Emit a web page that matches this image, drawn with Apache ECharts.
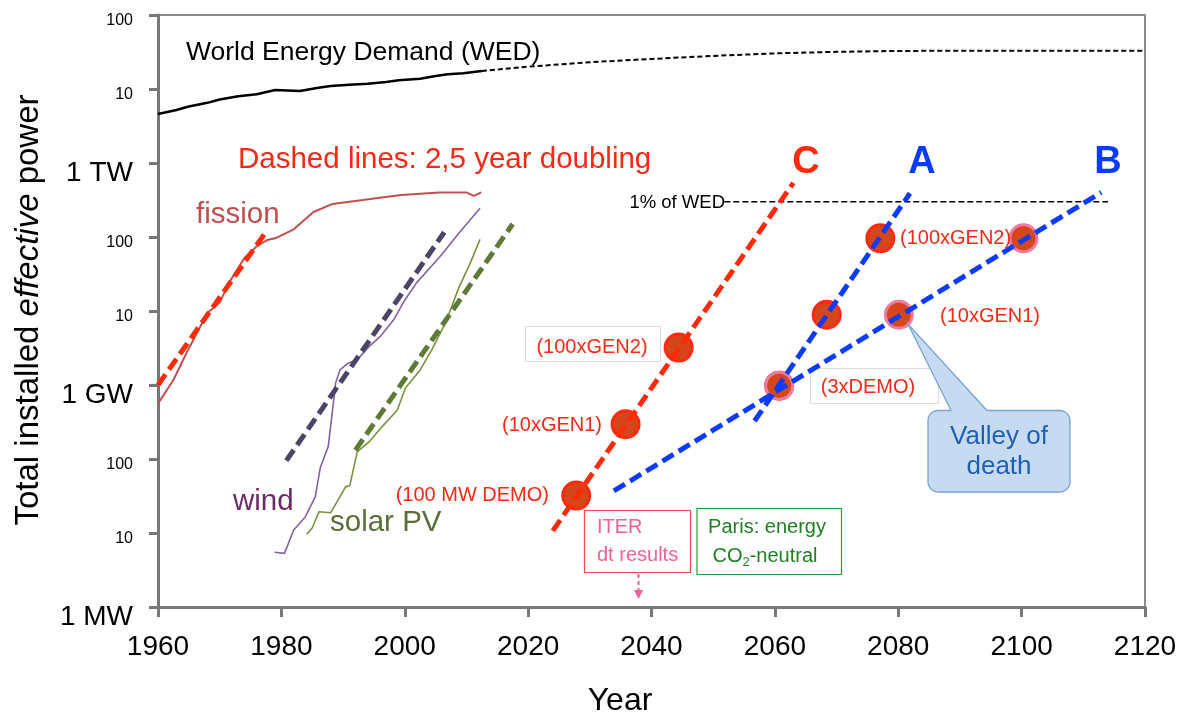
<!DOCTYPE html>
<html><head><meta charset="utf-8">
<script src="https://cdn.jsdelivr.net/npm/echarts@6/dist/echarts.min.js"></script>
<style>html,body{margin:0;padding:0;background:#fff}#c{width:1184px;height:718px}</style>
</head><body><div id="c"></div>
<script>
// ---------- DATA (power in MW unless noted) ----------
const xTicks = [1960, 1980, 2000, 2020, 2040, 2060, 2080, 2100, 2120];
const yTickLabels = ['1 MW', '10', '100', '1 GW', '10', '100', '1 TW', '10', '100'];

// World energy demand, TW
const wedYears = [1960, 1963, 1965, 1968, 1970, 1973, 1976, 1979, 1983, 1986, 1988, 1991, 1994, 1997, 1999, 2002.5, 2005, 2007, 2009.5, 2012.5];
const wedTW    = [4.6, 5.2, 5.8, 6.5, 7.2, 8.0, 8.5, 9.7, 9.4, 10.4, 11.0, 11.4, 11.8, 12.4, 13.1, 13.8, 15.0, 15.8, 16.3, 17.5];
const wedProjYears = [2012.5, 2020, 2030, 2040, 2050, 2060, 2070, 2080, 2100, 2120];
const wedProjTW    = [17.5, 20, 23, 25.5, 28, 30.3, 31.8, 32.7, 33, 33];

const fissionYears = [1960, 1962.5, 1964.7, 1966, 1968, 1970, 1971.5, 1974, 1976, 1977.7, 1979, 1982, 1985.2, 1988.3, 1993.2, 1999.4, 2005.6, 2010, 2011.2, 2012.4];
const fissionMW    = [560, 1170, 2800, 4500, 9400, 13000, 24000, 52000, 75000, 91000, 96000, 127000, 218000, 280000, 316000, 370000, 400000, 400000, 360000, 400000];

const windYears = [1978.9, 1980.5, 1982, 1983.9, 1985.5, 1986.3, 1987.6, 1988.3, 1988.8, 1989.5, 1990.7, 1992.3, 1994.2, 1996, 1998.2, 2000, 2001.9, 2005.7, 2008.8, 2012.2];
const windMW    = [5.5, 5.3, 11, 16.6, 31, 76, 148, 460, 1070, 1600, 1950, 2200, 3300, 4500, 7600, 14000, 24000, 54000, 113000, 245000];

const solarYears = [1984.1, 1985, 1986.1, 1988, 1989.2, 1990.4, 1991.1, 1992.3, 1994.2, 1996.3, 1998.8, 2000.1, 2002.5, 2004.4, 2006.6, 2008.8, 2010.6, 2012.2];
const solarMW    = [9.6, 11.7, 19.4, 18.8, 28, 42, 44, 125, 170, 272, 460, 910, 1600, 3000, 6900, 21000, 44000, 93000];

// 2.5-year doubling lines: [year, MW] end points
const fissionFit = [[1960, 1000], [1977.5, 117000]];
const windFit    = [[1980.8, 95], [2006.4, 116000]];
const solarFit   = [[1992, 132], [2017.5, 150000]];
const scenarioC  = [[2024, 10.7], [2063, 540000]];
const scenarioA  = [[2056.7, 326], [2081.9, 390000]];
const scenarioB  = [[2033.9, 37], [2112.9, 400000]];
const onePctWED  = [[2051.8, 300000], [2114, 300000]];

const cDotYears = [2027.8, 2035.8, 2044.4];
const cDotMW    = [32, 295, 3200];
const aDotYears = [2060.7, 2068.4, 2077.1];
const aDotMW    = [980, 8900, 96000];
const bDotYears = [2060.7, 2080.1, 2100.3];
const bDotMW    = [980, 8900, 96000];

// ---------- CHART ----------
const FONT = '"Liberation Sans", Arial, Helvetica, sans-serif';
const zip = (xs, ys, k) => xs.map((x, i) => [x, ys[i] * (k || 1)]);
const RED = '#ff2a0a', BLUE = '#0b3bff', LBL = '#f52a14';

function line(data, color, width, dash, z) {
  return { type: 'line', data, showSymbol: false, silent: true, z: z || 3,
    lineStyle: { color, width, type: dash || 'solid', cap: 'butt' }, animation: false };
}
function dots(xs, ys, border, z) {
  return { type: 'scatter', data: zip(xs, ys), symbolSize: 27, z: z || 2, silent: true,
    itemStyle: { color: '#d5461b', borderColor: border, borderWidth: 3, opacity: 1 }, animation: false };
}
function txt(x, y, text, size, fill, align, extra) {
  return Object.assign({ type: 'text', x, y, z: 10, style: Object.assign({ text, font: size + 'px ' + FONT, fill, align: align || 'left', verticalAlign: 'middle' }, (extra && extra.style) || {}) }, extra && extra.el || {});
}
// callout outline: rounded box with a pointer from its top edge
function calloutPoints(x0, y0, x1, y1, r, p1, apex, p2) {
  const pts = [];
  const arc = (cx, cy, a0, a1) => { for (let k = 0; k <= 6; k++) { const a = a0 + (a1 - a0) * k / 6; pts.push([cx + r * Math.cos(a), cy + r * Math.sin(a)]); } };
  arc(x0 + r, y0 + r, Math.PI, 1.5 * Math.PI);
  pts.push([p1, y0], apex, [p2, y0]);
  arc(x1 - r, y0 + r, 1.5 * Math.PI, 2 * Math.PI);
  arc(x1 - r, y1 - r, 0, 0.5 * Math.PI);
  arc(x0 + r, y1 - r, 0.5 * Math.PI, Math.PI);
  return pts;
}

const chart = echarts.init(document.getElementById('c'), null, { renderer: 'canvas' });
const graphic = [
  { type: 'text', x: 29, y: 310, rotation: Math.PI / 2, z: 10, style: { text: 'Total installed {i|effective} power', font: '33px ' + FONT, fill: '#000', align: 'center', verticalAlign: 'middle',
      rich: { i: { fontStyle: 'italic', fontSize: 33, fontFamily: FONT, fill: '#000' } } } },
  txt(620, 701, 'Year', 32, '#000', 'center'),
  txt(186, 53, 'World Energy Demand (WED)', 26.5, '#000'),
  txt(238, 160, 'Dashed lines: 2,5 year doubling', 29.5, LBL),
  txt(196, 215, 'fission', 29.5, '#c0504d'),
  txt(233, 502, 'wind', 29.5, '#6e2a68'),
  txt(330, 523, 'solar PV', 29.5, '#5b6e3a'),
  txt(806, 163, 'C', 38, RED, 'center', { style: { font: 'bold 38px ' + FONT } }),
  txt(922, 163, 'A', 38, BLUE, 'center', { style: { font: 'bold 38px ' + FONT } }),
  txt(1108, 163, 'B', 38, BLUE, 'center', { style: { font: 'bold 38px ' + FONT } }),
  txt(725, 203, '1% of WED', 18.5, '#000', 'right'),
  // dot labels
  txt(549, 495, '(100 MW DEMO)', 20, LBL, 'right'),
  txt(602, 425, '(10xGEN1)', 20, LBL, 'right'),
  { type: 'rect', z: 1, shape: { x: 525.5, y: 326.5, width: 135, height: 35 }, style: { fill: '#fff', stroke: '#dcdcdc', lineWidth: 1 } },
  txt(592, 347, '(100xGEN2)', 20, LBL, 'center'),
  { type: 'rect', z: 1, shape: { x: 810.5, y: 368.5, width: 128, height: 35 }, style: { fill: '#fff', stroke: '#dcdcdc', lineWidth: 1 } },
  txt(868, 387, '(3xDEMO)', 20, LBL, 'center'),
  txt(900, 238, '(100xGEN2)', 20, LBL, 'left'),
  txt(940, 316, '(10xGEN1)', 20, LBL, 'left'),
  // ITER box
  { type: 'rect', z: 6, shape: { x: 584.5, y: 510.5, width: 106, height: 62 }, style: { fill: '#fff', stroke: '#f04a4a', lineWidth: 1.2 } },
  txt(597, 527, 'ITER', 20, '#f2609a'),
  txt(597, 555, 'dt results', 20, '#f2609a'),
  { type: 'line', z: 6, shape: { x1: 638.5, y1: 574, x2: 638.5, y2: 591 }, style: { stroke: '#f2609a', lineWidth: 2, lineDash: [4, 3] } },
  { type: 'polygon', z: 6, shape: { points: [[634, 590], [643, 590], [638.5, 599]] }, style: { fill: '#f2609a' } },
  // Paris box
  { type: 'rect', z: 6, shape: { x: 697, y: 508.5, width: 144.5, height: 66 }, style: { fill: '#fff', stroke: '#2f9a35', lineWidth: 1.2 } },
  txt(767, 527, 'Paris: energy', 20, '#1f7f22', 'center'),
  txt(765, 556, 'CO{s|2}-neutral', 20, '#1f7f22', 'center', { style: { rich: { s: { fontSize: 13, fontFamily: FONT, fill: '#1f7f22', padding: [12, 0, 0, 0] } } } }),
  // Valley of death callout
  { type: 'polygon', z: 6, shape: { points: calloutPoints(928, 410.5, 1070, 492, 10, 951, [908, 324], 987) },
    style: { fill: '#c6daf1', stroke: '#7da3d2', lineWidth: 1.3 } },
  txt(999, 437, 'Valley of', 26, '#1f60b4', 'center'),
  txt(999, 467, 'death', 26, '#1f60b4', 'center')
];

const option = {
  animation: false,
  backgroundColor: '#fff',
  grid: { left: 158, right: 39, top: 15, bottom: 111, show: true, borderColor: '#8c8c8c', borderWidth: 2, backgroundColor: 'transparent' },
  xAxis: {
    type: 'value', min: xTicks[0], max: xTicks[xTicks.length - 1], interval: 20,
    axisLine: { onZero: false, lineStyle: { color: '#777', width: 3 } },
    axisTick: { show: true, length: 10, lineStyle: { color: '#777', width: 3 } },
    axisLabel: { fontSize: 28, color: '#000', fontFamily: FONT, margin: 26, formatter: v => String(v) },
    splitLine: { show: false }
  },
  yAxis: {
    type: 'log', logBase: 10, min: 1, max: 1e8, interval: 1,
    axisLine: { lineStyle: { color: '#777', width: 3 } },
    axisTick: { show: true, length: 9, lineStyle: { color: '#777', width: 3 } },
    axisLabel: {
      margin: 25, fontFamily: FONT, color: '#000', verticalAlign: 'top',
      formatter: v => { const i = Math.round(Math.log10(v)); const t = yTickLabels[i]; return i % 3 === 0 ? '{b|' + t + '}' : '{s|' + t + '}'; },
      rich: { b: { fontSize: 28, lineHeight: 20, fontFamily: FONT, color: '#000' }, s: { fontSize: 16, lineHeight: 12, fontFamily: FONT, color: '#000' } }
    },
    splitLine: { show: false }
  },
  graphic,
  series: [
    line(zip(wedYears, wedTW, 1e6), '#000', 2.5, 'solid', 3),
    line(zip(wedProjYears, wedProjTW, 1e6), '#000', 2, [5, 3], 3),
    line(onePctWED, '#000', 1.5, [6, 3], 3),
    line(zip(fissionYears, fissionMW), '#c0504d', 2, 'solid', 3),
    line(fissionFit, RED, 5, [13, 6], 4),
    line(zip(windYears, windMW), '#8064a2', 1.6, 'solid', 3),
    line(windFit, '#4a4566', 5, [13, 6], 4),
    line(zip(solarYears, solarMW), '#77933c', 1.6, 'solid', 3),
    line(solarFit, '#5f7a38', 5, [13, 6], 4),
    dots(cDotYears, cDotMW, '#ff2a10', 2),
    dots(aDotYears, aDotMW, '#ff2a10', 2),
    dots(bDotYears, bDotMW, '#f07aa0', 2),
    line(scenarioC, RED, 5, [13, 6], 5),
    line(scenarioA, BLUE, 5, [13, 6], 5),
    line(scenarioB, BLUE, 5, [13, 6], 5)
  ]
};
chart.setOption(option);
</script>
</body></html>
